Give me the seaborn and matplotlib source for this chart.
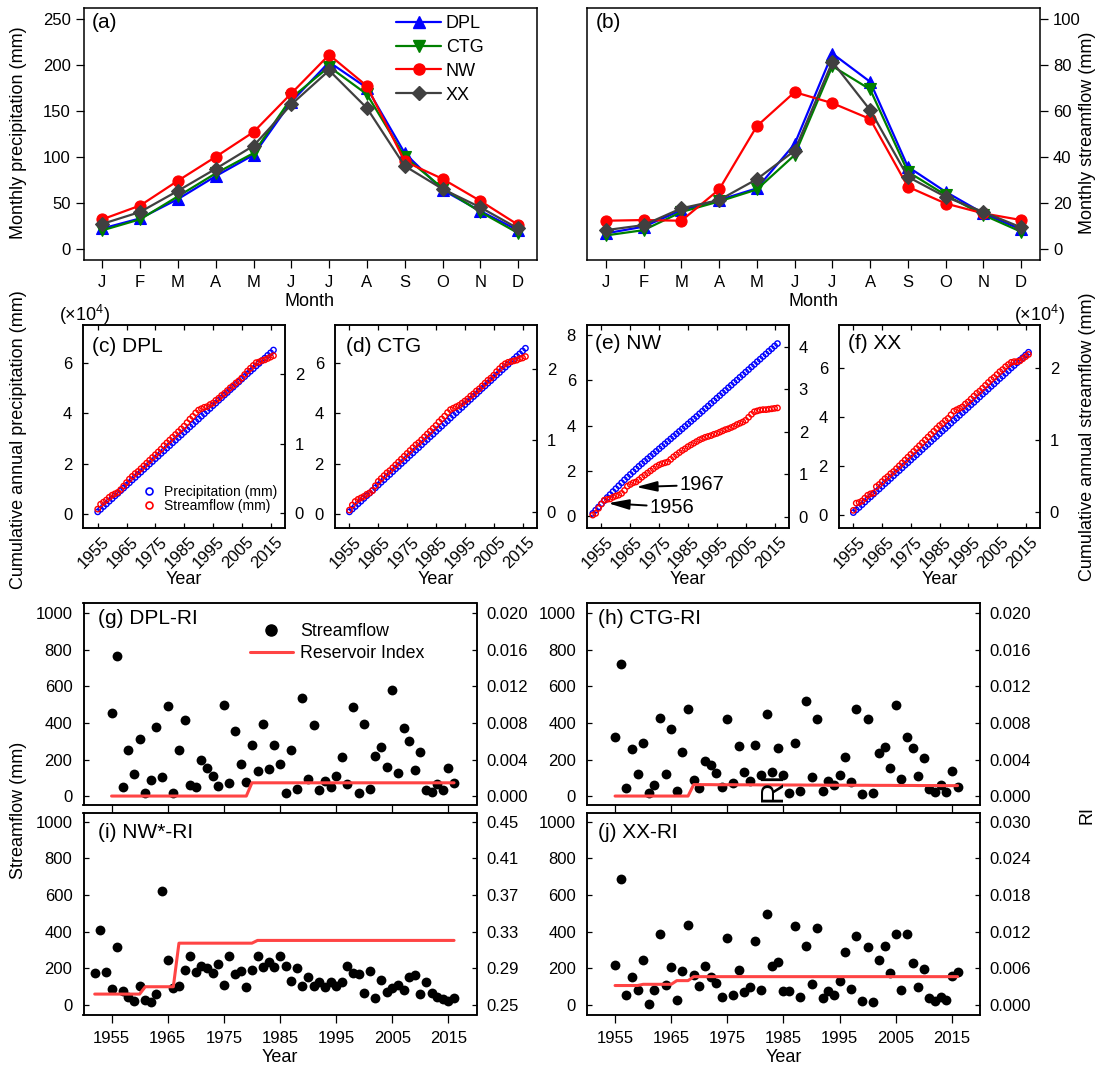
import numpy as np
import pandas as pd
import matplotlib
matplotlib.use("Agg")
import matplotlib.pyplot as plt
import matplotlib.transforms as mtransforms
from matplotlib.lines import Line2D
import seaborn as sns

# ------------------------------------------------------------------ data
month_num = [1, 2, 3, 4, 5, 6, 7, 8, 9, 10, 11, 12]
month_labels = ["J", "F", "M", "A", "M", "J", "J", "A", "S", "O", "N", "D"]

prec_DPL = [22, 33, 54, 79, 102, 160, 203, 175, 104, 64, 41, 20]
prec_CTG = [20, 32, 57, 82, 104, 164, 198, 168, 100, 66, 40, 17]
prec_NW = [32, 47, 74, 100, 127, 169, 211, 177, 95, 76, 52, 26]
prec_XX = [27, 40, 63, 87, 112, 157, 194, 153, 90, 65, 45, 22]

flow_DPL = [6.7, 9.6, 16.8, 21.2, 26.3, 45.6, 85.0, 72.7, 35.7, 24.8, 15.4, 8.4]
flow_CTG = [5.8, 8.1, 16.0, 20.6, 25.8, 40.8, 79.5, 69.4, 33.5, 23.4, 14.7, 7.4]
flow_NW = [12.2, 12.5, 12.2, 25.8, 53.4, 68.2, 63.4, 56.5, 27.0, 19.7, 15.4, 12.5]
flow_XX = [8.1, 10.3, 17.6, 21.2, 30.3, 42.7, 81.4, 60.4, 31.3, 22.6, 16.0, 9.3]

years_55 = list(range(1955, 2017))   # DPL, CTG, XX
years_52 = list(range(1952, 2017))   # NW

# cumulative annual precipitation / streamflow (x10^4 mm)
Pcum_DPL = [0.10, 0.20, 0.31, 0.41, 0.52, 0.62, 0.73, 0.83, 0.94, 1.04,
            1.15, 1.25, 1.36, 1.46, 1.57, 1.67, 1.78, 1.88, 1.99, 2.09,
            2.20, 2.30, 2.41, 2.51, 2.62, 2.72, 2.83, 2.93, 3.04, 3.14,
            3.25, 3.35, 3.46, 3.56, 3.67, 3.77, 3.88, 3.98, 4.09, 4.19,
            4.30, 4.40, 4.51, 4.61, 4.72, 4.82, 4.93, 5.03, 5.14, 5.24,
            5.35, 5.45, 5.56, 5.66, 5.76, 5.87, 5.97, 6.08, 6.18, 6.29,
            6.39, 6.50]
Qcum_DPL = [0.06, 0.13, 0.16, 0.19, 0.23, 0.26, 0.28, 0.30, 0.34, 0.39,
            0.44, 0.49, 0.53, 0.57, 0.60, 0.64, 0.68, 0.72, 0.76, 0.80,
            0.84, 0.88, 0.92, 0.97, 1.01, 1.05, 1.09, 1.13, 1.17, 1.21,
            1.25, 1.30, 1.35, 1.39, 1.44, 1.48, 1.50, 1.52, 1.53, 1.56,
            1.58, 1.62, 1.65, 1.69, 1.72, 1.76, 1.80, 1.83, 1.87, 1.90,
            1.94, 1.99, 2.04, 2.08, 2.12, 2.16, 2.17, 2.19, 2.20, 2.22,
            2.24, 2.26]
Pcum_CTG = [0.10, 0.21, 0.31, 0.42, 0.52, 0.63, 0.74, 0.84, 0.95, 1.05,
            1.16, 1.27, 1.37, 1.48, 1.58, 1.69, 1.80, 1.90, 2.01, 2.11,
            2.22, 2.33, 2.43, 2.54, 2.64, 2.75, 2.86, 2.96, 3.07, 3.17,
            3.28, 3.39, 3.49, 3.60, 3.70, 3.81, 3.92, 4.02, 4.13, 4.23,
            4.34, 4.45, 4.55, 4.66, 4.76, 4.87, 4.98, 5.08, 5.19, 5.29,
            5.40, 5.51, 5.61, 5.72, 5.82, 5.93, 6.04, 6.14, 6.25, 6.35,
            6.46, 6.57]
Qcum_CTG = [0.03, 0.10, 0.15, 0.18, 0.20, 0.22, 0.25, 0.27, 0.30, 0.37,
            0.43, 0.47, 0.51, 0.55, 0.58, 0.62, 0.66, 0.70, 0.74, 0.78,
            0.82, 0.86, 0.90, 0.94, 0.97, 1.01, 1.05, 1.09, 1.13, 1.17,
            1.21, 1.26, 1.30, 1.34, 1.39, 1.43, 1.45, 1.47, 1.49, 1.52,
            1.55, 1.58, 1.62, 1.65, 1.69, 1.72, 1.76, 1.80, 1.84, 1.87,
            1.91, 1.96, 2.00, 2.04, 2.07, 2.09, 2.10, 2.11, 2.12, 2.14,
            2.15, 2.17]
Pcum_NW = [0.12, 0.26, 0.40,
           0.54, 0.68, 0.82, 0.95, 1.08, 1.21, 1.34, 1.47, 1.60, 1.72,
           1.84, 1.96, 2.08, 2.20, 2.31, 2.42, 2.53, 2.64, 2.75, 2.86,
           2.97, 3.08, 3.19, 3.30, 3.41, 3.52, 3.63, 3.74, 3.85, 3.96,
           4.07, 4.18, 4.29, 4.40, 4.52, 4.63, 4.75, 4.86, 4.98, 5.09,
           5.21, 5.32, 5.44, 5.55, 5.67, 5.78, 5.90, 6.01, 6.13, 6.24,
           6.36, 6.47, 6.59, 6.70, 6.82, 6.93, 7.05, 7.16, 7.28, 7.39,
           7.51, 7.62]
Qcum_NW = [0.04, 0.08, 0.20,
           0.30, 0.39, 0.41, 0.42, 0.46, 0.49, 0.51, 0.55, 0.62, 0.72,
           0.76, 0.80, 0.82, 0.87, 0.93, 0.98, 1.03, 1.08, 1.13, 1.18,
           1.22, 1.25, 1.27, 1.29, 1.35, 1.41, 1.46, 1.51, 1.56, 1.60,
           1.65, 1.69, 1.73, 1.77, 1.81, 1.84, 1.87, 1.89, 1.91, 1.94,
           1.96, 1.99, 2.02, 2.05, 2.07, 2.10, 2.13, 2.17, 2.20, 2.23,
           2.27, 2.34, 2.41, 2.47, 2.49, 2.51, 2.52, 2.52, 2.53, 2.54,
           2.55, 2.56]
Pcum_XX = [0.10, 0.21, 0.31, 0.42, 0.53, 0.64, 0.74, 0.85, 0.96, 1.06,
           1.17, 1.28, 1.38, 1.49, 1.60, 1.71, 1.81, 1.92, 2.03, 2.13,
           2.24, 2.35, 2.45, 2.56, 2.67, 2.78, 2.88, 2.99, 3.10, 3.20,
           3.31, 3.42, 3.52, 3.63, 3.74, 3.85, 3.95, 4.06, 4.17, 4.27,
           4.38, 4.49, 4.59, 4.70, 4.81, 4.92, 5.02, 5.13, 5.24, 5.34,
           5.45, 5.56, 5.66, 5.77, 5.88, 5.99, 6.09, 6.20, 6.31, 6.41,
           6.52, 6.63]
Qcum_XX = [0.02, 0.12, 0.13, 0.15, 0.19, 0.23, 0.25, 0.26, 0.35, 0.38,
           0.42, 0.46, 0.49, 0.53, 0.56, 0.60, 0.64, 0.68, 0.72, 0.76,
           0.80, 0.84, 0.88, 0.92, 0.96, 1.00, 1.04, 1.08, 1.12, 1.16,
           1.20, 1.23, 1.27, 1.30, 1.35, 1.40, 1.42, 1.44, 1.46, 1.50,
           1.53, 1.57, 1.61, 1.65, 1.68, 1.72, 1.76, 1.80, 1.84, 1.87,
           1.91, 1.95, 1.98, 2.02, 2.05, 2.08, 2.09, 2.09, 2.10, 2.13,
           2.16, 2.19]

# annual streamflow (mm)
sf_DPL = [456, 769, 51, 251, 120, 311, 18, 87, 378, 102,
          491, 18, 251, 418, 60, 47, 196, 151, 111, 55,
          500, 73, 356, 173, 78, 278, 136, 393, 147, 278,
          178, 15, 251, 38, 536, 96, 391, 33, 84, 47,
          111, 215, 65, 487, 15, 396, 38, 220, 269, 160,
          578, 124, 375, 302, 142, 242, 33, 20, 64, 33,
          151, 69]
sf_CTG = [324, 724, 42, 256, 120, 293, 15, 60, 427, 120,
          369, 27, 242, 475, 87, 45, 193, 169, 124, 51,
          424, 69, 275, 133, 84, 282, 115, 451, 129, 265,
          115, 15, 293, 27, 518, 102, 424, 27, 84, 60,
          115, 215, 78, 478, 9, 424, 15, 238, 269, 155,
          500, 96, 324, 265, 111, 209, 36, 24, 60, 24,
          136, 51]
sf_NW = [175, 407, 182,
         88, 316, 78, 42, 20, 102, 27, 18, 60, 622,
         246, 93, 106, 193, 265, 179, 215, 203, 173, 224,
         109, 265, 170, 184, 100, 193, 265, 210, 237, 206,
         265, 212, 133, 203, 106, 151, 106, 128, 100, 124,
         106, 124, 215, 175, 170, 64, 184, 38, 137, 69,
         91, 111, 82, 155, 164, 60, 124, 64, 46, 33,
         20, 36]
sf_XX = [221, 686, 57, 155, 82, 248, 5, 82, 385, 111,
         206, 29, 188, 438, 166, 102, 215, 155, 120, 46,
         365, 57, 193, 73, 97, 352, 84, 494, 212, 234,
         75, 75, 431, 46, 321, 115, 420, 36, 75, 57,
         133, 288, 88, 374, 20, 316, 15, 248, 321, 175,
         385, 82, 389, 228, 97, 197, 36, 24, 42, 29,
         157, 182]

# reservoir index
ri_DPL = [0, 0, 0, 0, 0, 0, 0, 0, 0, 0,
          0, 0, 0, 0, 0, 0, 0, 0, 0, 0,
          0, 0, 0, 0, 0, 0.00145, 0.00145, 0.00145, 0.00145, 0.00145,
          0.00145, 0.00145, 0.00145, 0.00145, 0.00145, 0.00145, 0.00145, 0.00145, 0.00145, 0.00145,
          0.00145, 0.00145, 0.00145, 0.00145, 0.00145, 0.00145, 0.00145, 0.00145, 0.00145, 0.00145,
          0.00145, 0.00145, 0.00145, 0.00145, 0.00145, 0.00145, 0.00145, 0.00145, 0.00145, 0.00145,
          0.00145, 0.00145]
ri_CTG = [0, 0, 0, 0, 0, 0, 0, 0, 0, 0,
          0, 0, 0, 0, 0.00125, 0.00125, 0.00125, 0.00125, 0.00124, 0.00124,
          0.00124, 0.00124, 0.00123, 0.00123, 0.00123, 0.00123, 0.00122, 0.00122, 0.00122, 0.00122,
          0.00121, 0.00121, 0.00121, 0.00121, 0.00120, 0.00120, 0.00120, 0.00120, 0.00119, 0.00119,
          0.00119, 0.00119, 0.00118, 0.00118, 0.00118, 0.00118, 0.00117, 0.00117, 0.00117, 0.00117,
          0.00116, 0.00116, 0.00116, 0.00116, 0.00115, 0.00115, 0.00115, 0.00115, 0.00114, 0.00114,
          0.00114, 0.00114]
ri_NW = [0.262, 0.262, 0.262,
         0.262, 0.262, 0.262, 0.262, 0.262, 0.262, 0.270, 0.270, 0.270, 0.270,
         0.270, 0.270, 0.3175, 0.3175, 0.3175, 0.3175, 0.3175, 0.3175, 0.3175, 0.3175,
         0.3175, 0.3175, 0.3175, 0.3175, 0.3175, 0.3175, 0.3205, 0.3205, 0.3205, 0.3205,
         0.3205, 0.3205, 0.3205, 0.3205, 0.3205, 0.3205, 0.3205, 0.3205, 0.3205, 0.3205,
         0.3205, 0.3205, 0.3205, 0.3205, 0.3205, 0.3205, 0.3205, 0.3205, 0.3205, 0.3205,
         0.3205, 0.3205, 0.3205, 0.3205, 0.3205, 0.3205, 0.3205, 0.3205, 0.3205, 0.3205,
         0.3205, 0.3205]
ri_XX = [0.0032, 0.0032, 0.0032, 0.0032, 0.0032, 0.0034, 0.0034, 0.0034, 0.0034, 0.0034,
         0.0034, 0.0040, 0.0040, 0.0040, 0.00465, 0.00465, 0.00465, 0.00465, 0.00465, 0.00465,
         0.00465, 0.00465, 0.00465, 0.00465, 0.00465, 0.00465, 0.00465, 0.00465, 0.00465, 0.00465,
         0.00465, 0.00465, 0.00465, 0.00465, 0.00465, 0.00465, 0.00465, 0.00465, 0.00465, 0.00465,
         0.00465, 0.00465, 0.00465, 0.00465, 0.00465, 0.00465, 0.00465, 0.00465, 0.00465, 0.00465,
         0.00465, 0.00465, 0.00465, 0.00465, 0.00465, 0.00465, 0.00465, 0.00465, 0.00465, 0.00465,
         0.00465, 0.00465]

# ------------------------------------------------------------------ style
sns.set_theme(style="ticks")
plt.rcParams["font.family"] = ["Liberation Sans", "DejaVu Sans"]
plt.rcParams.update({
    "axes.edgecolor": "black", "axes.linewidth": 1.1,
    "xtick.color": "black", "ytick.color": "black",
    "text.color": "black", "axes.labelcolor": "black",
    "mathtext.fontset": "custom", "mathtext.rm": "Liberation Sans",
})
TL = 12      # tick labels
AL = 13      # axis titles
PL = 15      # panel labels
BLUE, GREEN, RED, GRAY = "#0000FF", "#008000", "#FF0000", "#404040"
RILINE = "#FF4444"

W, H = 1101, 1066
fig = plt.figure(figsize=(W / 100, H / 100), dpi=100)


def add_ax(l, r, t, b):
    return fig.add_axes([l / W, 1 - b / H, (r - l) / W, (b - t) / H])


def ftxt(x, y, s, **kw):
    kw.setdefault("va", "center")
    fig.text(x / W, 1 - y / H, s, **kw)


# ------------------------------------------------------------------ (a), (b)
series = [("DPL", BLUE, "^", 8.5), ("CTG", GREEN, "v", 8.5),
          ("NW", RED, "o", 8), ("XX", GRAY, "D", 7)]
prec = {"DPL": prec_DPL, "CTG": prec_CTG, "NW": prec_NW, "XX": prec_XX}
flow = {"DPL": flow_DPL, "CTG": flow_CTG, "NW": flow_NW, "XX": flow_XX}

axa = add_ax(83.5, 537, 8.3, 260)
axb = add_ax(587, 1040, 8.3, 260)
for ax, data in ((axa, prec), (axb, flow)):
    for name, c, m, ms in series:
        sns.lineplot(x=month_num, y=data[name], ax=ax, color=c, marker=m,
                     markersize=ms, markeredgecolor=c, markeredgewidth=0.8,
                     linewidth=1.6)
    ax.set_xlim(0.5, 12.5)
    ax.set_xticks(month_num)
    ax.set_xticklabels(month_labels)
    ax.set_xlabel("")
    ax.set_ylabel("")
    ax.tick_params(axis="both", direction="out", length=5.8, width=0.9,
                   labelsize=TL)
    ax.tick_params(axis="x", pad=5)
    ax.tick_params(axis="y", pad=3.5)

axa.set_ylim(-12.3, 261.6)
axa.set_yticks([0, 50, 100, 150, 200, 250])
axb.set_ylim(-4.9, 104.7)
axb.set_yticks([0, 20, 40, 60, 80, 100])
axb.yaxis.tick_right()

handles = [Line2D([], [], color=c, marker=m, markersize=ms, markeredgecolor=c,
                  lw=1.6) for _, c, m, ms in series]
axa.legend(handles, [s[0] for s in series], loc="upper left",
           bbox_to_anchor=(396 / W, 1 - 15 / H), bbox_transform=fig.transFigure,
           frameon=False, borderpad=0, borderaxespad=0, handlelength=2.5,
           handletextpad=0.25, labelspacing=0.38, fontsize=13)

ftxt(92, 23, "(a)", fontsize=PL)
ftxt(596, 23, "(b)", fontsize=PL)
ftxt(310, 302, "Month", fontsize=AL, ha="center")
ftxt(813, 302, "Month", fontsize=AL, ha="center")
ftxt(19, 133, "Monthly precipitation (mm)", fontsize=AL, rotation=90, ha="center")
ftxt(1087, 133, "Monthly streamflow (mm)", fontsize=AL, rotation=90, ha="center")

# ------------------------------------------------------------------ (c)-(f)
cum_specs = [
    ("(c) DPL", 83.3, 285, years_55, Pcum_DPL, Qcum_DPL, (-0.55, 7.49), (-0.215, 2.70),
     [0, 2, 4, 6], [0, 1, 2], 92, 347),
    ("(d) CTG", 335, 537, years_55, Pcum_CTG, Qcum_CTG, (-0.55, 7.49), (-0.224, 2.61),
     [0, 2, 4, 6], [0, 1, 2], 345.5, 347),
    ("(e) NW", 587, 789, years_52, Pcum_NW, Qcum_NW, (-0.54, 8.44), (-0.27, 4.51),
     [0, 2, 4, 6, 8], [0, 1, 2, 3, 4], 595, 343),
    ("(f) XX", 839, 1040, years_55, Pcum_XX, Qcum_XX, (-0.54, 7.74), (-0.23, 2.60),
     [0, 2, 4, 6], [0, 1, 2], 848, 343),
]
year_ticks = [1955, 1965, 1975, 1985, 1995, 2005, 2015]
rot_labels = []
twin_e = None
for label, l, r, yrs, P, Q, ylL, ylR, tL, tR, lx, ly in cum_specs:
    ax = add_ax(l, r, 325, 528.3)
    sns.scatterplot(x=yrs, y=P, ax=ax, s=15, facecolors="none",
                    edgecolor=BLUE, linewidth=1.0, legend=False)
    ax2 = ax.twinx()
    sns.scatterplot(x=yrs, y=Q, ax=ax2, s=15, facecolors="none",
                    edgecolor=RED, linewidth=1.0, legend=False)
    ax.set_xlim(1950, 2020)
    ax.set_ylim(*ylL)
    ax2.set_ylim(*ylR)
    ax.set_yticks(tL)
    ax2.set_yticks(tR)
    ax.set_xticks(year_ticks)
    ax.set_xticklabels([str(y) for y in year_ticks], rotation=45, ha="right",
                       va="top", rotation_mode="anchor")
    ax.tick_params(axis="x", direction="in", length=3.6, width=0.9, top=True,
                   bottom=True, labelsize=TL, pad=4)
    ax.tick_params(axis="y", direction="in", length=3.6, width=0.9, left=True,
                   right=False, labelsize=TL, pad=8)
    ax2.tick_params(axis="y", direction="in", length=3.6, width=0.9, right=True,
                    labelsize=TL, pad=7)
    for a in (ax, ax2):
        a.set_xlabel("")
        a.set_ylabel("")
    rot_labels.append(ax)
    ftxt(lx, ly, label, fontsize=PL)
    ftxt((l + r) / 2, 580, "Year", fontsize=AL, ha="center")
    if label.startswith("(c)"):
        h_c = [Line2D([], [], marker="o", linestyle="none", markersize=5,
                      markerfacecolor="none", markeredgecolor=BLUE, markeredgewidth=1.2),
               Line2D([], [], marker="o", linestyle="none", markersize=5,
                      markerfacecolor="none", markeredgecolor=RED, markeredgewidth=1.2)]
        ax2.legend(h_c, ["Precipitation (mm)", "Streamflow (mm)"], loc="upper left",
                   bbox_to_anchor=(142 / W, 1 - 485 / H),
                   bbox_transform=fig.transFigure, frameon=False, borderpad=0,
                   borderaxespad=0, handlelength=1.0, handletextpad=0.6,
                   labelspacing=-0.02, fontsize=10)
    if label.startswith("(e)"):
        twin_e = ax2

arrow_kw = dict(arrowstyle="-|>,head_length=0.9,head_width=0.22", color="black",
                lw=1.4, shrinkA=0, shrinkB=0, mutation_scale=14)
twin_e.annotate("1967", xy=(1967.0, 0.70), xytext=(1982.2, 0.75), fontsize=14.5,
                ha="left", va="center", arrowprops=arrow_kw)
twin_e.annotate("1956", xy=(1957.3, 0.32), xytext=(1971.8, 0.23), fontsize=14.5,
                ha="left", va="center", arrowprops=arrow_kw)

ftxt(85, 315, "(×10$^{4}$)", fontsize=13, ha="center")
ftxt(1040, 315, "(×10$^{4}$)", fontsize=13, ha="center")
ftxt(19, 440, "Cumulative annual precipitation (mm)", fontsize=AL, rotation=90,
     ha="center")
ftxt(1087, 437, "Cumulative annual streamflow (mm)", fontsize=AL, rotation=90,
     ha="center")

# ------------------------------------------------------------------ (g)-(j)
ri_specs = [
    ("(g) DPL-RI", 83.5, 476.5, 603, 805, years_55, sf_DPL, ri_DPL, (-49, 1057),
     (-0.00098, 0.02114), [0, 0.004, 0.008, 0.012, 0.016, 0.020], "{:.3f}", False, 97.5, 619),
    ("(h) CTG-RI", 587, 980, 603, 805, years_55, sf_CTG, ri_CTG, (-49, 1057),
     (-0.00098, 0.02114), [0, 0.004, 0.008, 0.012, 0.016, 0.020], "{:.3f}", False, 598.5, 619),
    ("(i) NW*-RI", 83.5, 476.5, 813, 1015, years_52, sf_NW, ri_NW, (-54, 1047),
     (0.2392, 0.4594), [0.25, 0.29, 0.33, 0.37, 0.41, 0.45], "{:.2f}", True, 97.5, 833),
    ("(j) XX-RI", 587, 980, 813, 1015, years_55, sf_XX, ri_XX, (-54, 1047),
     (-0.00162, 0.03141), [0, 0.006, 0.012, 0.018, 0.024, 0.030], "{:.3f}", True, 598, 833),
]
for label, l, r, t, b, yrs, sf, ri, ylL, ylR, tR, fmt, lab_x, lx, ly in ri_specs:
    ax = add_ax(l, r, t, b)
    sns.scatterplot(x=yrs, y=sf, ax=ax, s=50, color="black", edgecolor="black",
                    linewidth=0, legend=False)
    ax2 = ax.twinx()
    sns.lineplot(x=yrs, y=ri, ax=ax2, color=RILINE, linewidth=2.2)
    ax.set_xlim(1950, 2020)
    ax.set_ylim(*ylL)
    ax2.set_ylim(*ylR)
    ax.set_yticks([0, 200, 400, 600, 800, 1000])
    ax2.set_yticks(tR)
    ax2.set_yticklabels([fmt.format(v) for v in tR])
    ax.set_xticks(year_ticks)
    ax.tick_params(axis="x", direction="out", length=5.8, width=0.9,
                   labelsize=TL, pad=5.5, labelbottom=lab_x)
    ax.tick_params(axis="y", direction="in", length=3.6, width=0.9,
                   labelsize=TL, pad=8, left=True, right=False)
    ax2.tick_params(axis="y", direction="in", length=3.6, width=0.9,
                    labelsize=TL, pad=7, right=True)
    for a in (ax, ax2):
        a.set_xlabel("")
        a.set_ylabel("")
    ftxt(lx, ly, label, fontsize=PL)
    if lab_x:
        ftxt((l + r) / 2, 1057, "Year", fontsize=AL, ha="center")
    if label.startswith("(g)"):
        h_g = [Line2D([], [], marker="o", linestyle="none", markersize=8,
                      color="black"),
               Line2D([], [], color=RILINE, lw=2.2)]
        ax2.legend(h_g, ["Streamflow", "Reservoir Index"], loc="upper left",
                   bbox_to_anchor=(250 / W, 1 - 623 / H),
                   bbox_transform=fig.transFigure, frameon=False, borderpad=0,
                   borderaxespad=0, handlelength=2.4, handletextpad=0.4,
                   labelspacing=0.3, fontsize=12.8)

ftxt(19, 810, "Streamflow (mm)", fontsize=AL, rotation=90, ha="center")
ftxt(1087, 815, "RI", fontsize=AL, rotation=90, ha="center")
ftxt(773, 787, "RI", fontsize=22, rotation=90, ha="center")

# small offset of the rotated year labels (as in the original)
offset = mtransforms.ScaledTranslation(4 / 100, 0, fig.dpi_scale_trans)
for ax in rot_labels:
    for lab in ax.get_xticklabels():
        lab.set_transform(lab.get_transform() + offset)

fig.savefig("out.png", dpi=100)
